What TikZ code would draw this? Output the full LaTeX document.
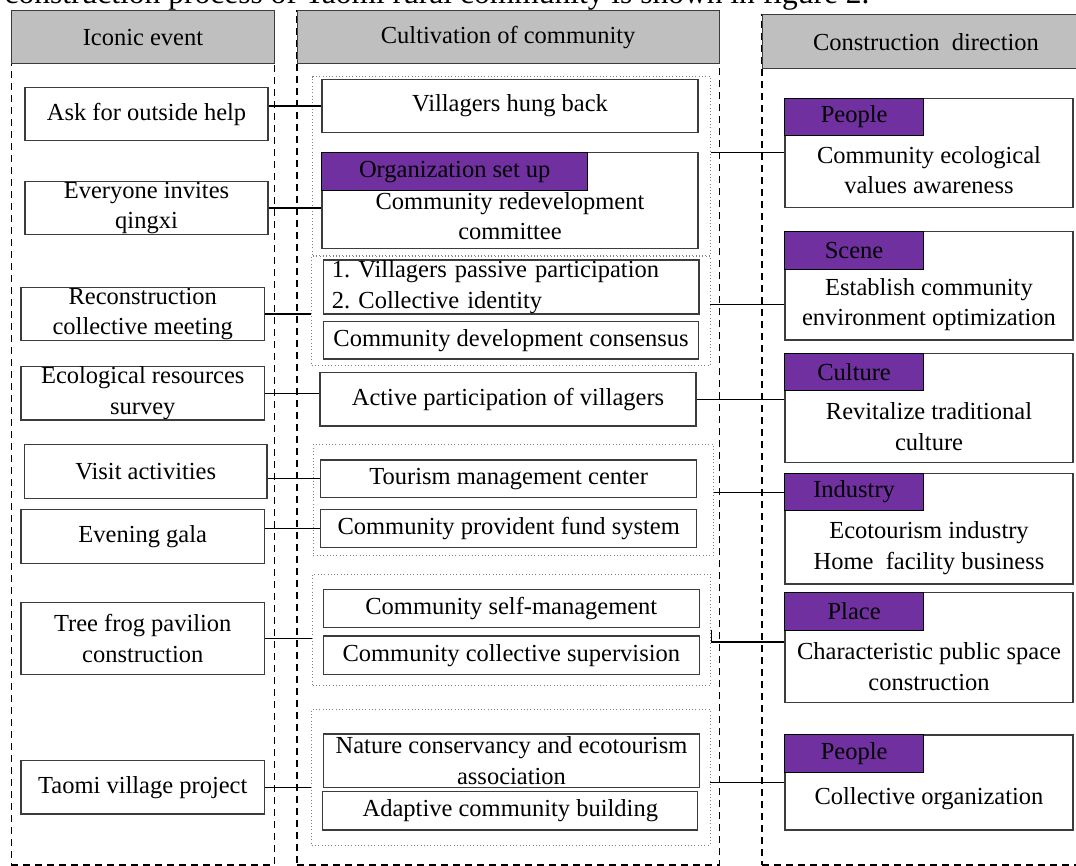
\documentclass[tikz,border=0pt]{standalone}
\usepackage{fontspec}
\setmainfont{Liberation Serif}
\usetikzlibrary{calc}

\definecolor{tabpurple}{RGB}{112,48,160}
\definecolor{headgray}{RGB}{191,191,191}
\definecolor{boxline}{RGB}{60,60,60}

\begin{document}
\begin{tikzpicture}[x=1pt,y=-1pt,font=\fontsize{24.5}{30.5}\selectfont,
  col node/.style={draw,line width=1.1pt,dash pattern=on 7pt off 5pt,inner sep=0pt},
  head node/.style={draw=boxline,line width=1pt,fill=headgray,inner sep=0pt},
  box node/.style={draw=boxline,line width=1.2pt,fill=white,inner sep=0pt,align=center},
  tab node/.style={draw=black,line width=1pt,fill=tabpurple,inner sep=0pt,
    minimum width=138.4,minimum height=37.6,anchor=north west},
  group node/.style={draw=gray,line width=0.9pt,dash pattern=on 0.9pt off 2.4pt,inner sep=0pt},
  dir text/.style={align=center,inner sep=0pt},
  link/.style={every edge/.style={draw,line width=1.1pt}}]

  \useasboundingbox (0,0) rectangle (1076,866);
  \clip (0,0) rectangle (1076,866);

  \node[anchor=base east,font=\fontsize{31.5}{38}\selectfont] (title) at (873,4)
    {construction process of Taomi rural community is shown in figure 2.};

  % columns and headers
  \node[col node,minimum width=263.1,minimum height=854] (colevent) at (142.95,438) {};
  \node[col node,minimum width=422.3,minimum height=854] (colcult) at (508.15,438) {};
  \node[col node,minimum width=328,minimum height=850] (coldir) at (926,440) {};
  \node[head node,minimum width=263.1,minimum height=52.3] (hdevent) at (142.95,37.15) {Iconic event};
  \node[head node,minimum width=422.3,minimum height=52.3] (hdcult) at (508.15,37.15) {Cultivation of community};
  \node[head node,minimum width=328,minimum height=53.3] (hddir) at (926,41.65) {Construction\ \ direction};

  % iconic events
  \node[box node,minimum width=243,minimum height=53] (ask) at (146.5,114.2) {Ask for outside help};
  \node[box node,minimum width=243,minimum height=52.6] (invite) at (146.5,208) {Everyone invites\\qingxi};
  \node[box node,minimum width=243.5,minimum height=53.4] (meet) at (142.75,314) {Reconstruction\\collective meeting};
  \node[box node,minimum width=243.5,minimum height=53.3] (survey) at (142.75,393.3) {Ecological resources\\survey};
  \node[box node,minimum width=242.5,minimum height=54] (visit) at (145.75,471.3) {Visit activities};
  \node[box node,minimum width=243.5,minimum height=54] (gala) at (142.75,536.3) {Evening gala};
  \node[box node,minimum width=243.5,minimum height=71.6] (frog) at (142.75,638.5) {Tree frog pavilion\\construction};
  \node[box node,minimum width=243.5,minimum height=53.3] (taomi) at (142.75,787.3) {Taomi village project};

  % dotted groups
  \node[group node,minimum width=398,minimum height=178.3] (g1) at (511.7,165.85) {};
  \node[group node,minimum width=398.4,minimum height=109.7] (g2) at (510.8,310.85) {};
  \node[group node,minimum width=400,minimum height=110.7] (g3) at (513.3,499.65) {};
  \node[group node,minimum width=398,minimum height=110.7] (g4) at (511.7,629.65) {};
  \node[group node,minimum width=398.4,minimum height=135.7] (g5) at (510.8,777.15) {};

  % cultivation of community
  \node[box node,minimum width=376,minimum height=53.4] (hung) at (510,106) {Villagers hung back};
  \node[box node,minimum width=376,minimum height=95.6] (redev) at (510,200.5) {};
  \node[tab node,minimum width=265.7,minimum height=38.3] (tabredev) at (redev.north west) {Organization set up};
  \node[dir text] (txtredev) at (510,216) {Community redevelopment\\committee};
  \node[box node,minimum width=375.3,minimum height=54,text width=359,align=left] (passive) at (511.4,287)
    {1.\ Villagers passive participation\\2.\ Collective identity};
  \node[box node,minimum width=374.8,minimum height=37.3] (consensus) at (511.1,340.3) {Community development consensus};
  \node[box node,minimum width=376,minimum height=53.3] (active) at (508,399.3) {Active participation of villagers};
  \node[box node,minimum width=376,minimum height=37.7] (tourism) at (508.7,478.8) {Tourism management center};
  \node[box node,minimum width=376,minimum height=38.4] (fund) at (508.7,528.5) {Community provident fund system};
  \node[box node,minimum width=376,minimum height=38] (selfm) at (511.3,608.3) {Community self-management};
  \node[box node,minimum width=376,minimum height=38.3] (superv) at (511.3,655.2) {Community collective supervision};
  \node[box node,minimum width=375.5,minimum height=53.3] (nature) at (511.5,760.7) {Nature conservancy and ecotourism\\association};
  \node[box node,minimum width=375,minimum height=38.3] (adapt) at (510.3,810.8) {Adaptive community building};

  % construction direction
  \node[box node,minimum width=288,minimum height=109] (dir1) at (929,152.8) {};
  \node[tab node] (tab1) at (dir1.north west) {People};
  \node[dir text] (txt1) at (929,170) {Community ecological\\values awareness};
  \node[box node,minimum width=288,minimum height=108.3] (dir2) at (929,285.8) {};
  \node[tab node] (tab2) at (dir2.north west) {Scene};
  \node[dir text] (txt2) at (929,304.5) {Establish community\\environment optimization};
  \node[box node,minimum width=288,minimum height=109.4] (dir3) at (929,408) {};
  \node[tab node] (tab3) at (dir3.north west) {Culture};
  \node[dir text] (txt3) at (929,426.8) {Revitalize traditional\\culture};
  \node[box node,minimum width=288,minimum height=110.7] (dir4) at (929,528.7) {};
  \node[tab node] (tab4) at (dir4.north west) {Industry};
  \node[dir text] (txt4) at (929,547.9) {Ecotourism industry\\Home\ \ facility business};
  \node[box node,minimum width=288,minimum height=110] (dir5) at (929,647.7) {};
  \node[tab node] (tab5) at (dir5.north west) {Place};
  \node[dir text] (txt5) at (929,666.7) {Characteristic public space\\construction};
  \node[box node,minimum width=288,minimum height=95] (dir6) at (929,782.5) {};
  \node[tab node] (tab6) at (dir6.north west) {People};
  \node[dir text] (txt6) at (929,799) {Collective organization};

  \path[link]
  (ask.east |- hung.west) edge (hung.west)
  (invite.east) edge (invite.east -| redev.west)
  (meet.east) edge (meet.east -| g2.west)
  (survey.east) edge (survey.east -| active.west)
  (visit.east |- tourism.west) edge (tourism.west)
  (gala.east |- fund.west) edge (fund.west)
  (frog.east) edge (frog.east -| g4.west)
  (taomi.east) edge (taomi.east -| g5.west)
  (g1.east |- dir1.west) edge (dir1.west)
  (g2.east |- txt2) edge (txt2 -| dir2.west)
  (active.east) edge (active.east -| dir3.west)
  (g3.east |- tab4.west) edge (tab4.west)
  (g5.east |- dir6.west) edge (dir6.west);
  \draw[line width=1.1pt] (g4.east) |- ($(dir5.west)+(0,-5.7)$);
\end{tikzpicture}
\end{document}
